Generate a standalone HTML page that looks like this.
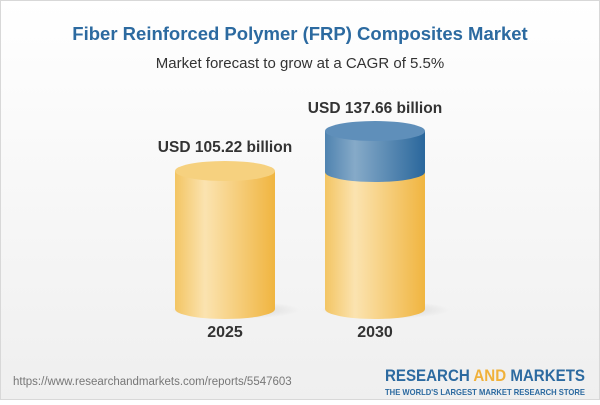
<!DOCTYPE html>
<html><head><style>
html,body{margin:0;padding:0;}
body{width:600px;height:400px;overflow:hidden;font-family:"Liberation Sans",Arial,sans-serif;}
</style></head><body>
<svg width="600" height="400" xmlns="http://www.w3.org/2000/svg">
<defs>
<linearGradient id="bg" x1="0" y1="0" x2="0" y2="1"><stop offset="0" stop-color="#ffffff"/><stop offset="1" stop-color="#efefef"/></linearGradient>
<linearGradient id="yb" x1="0" x2="1"><stop offset="0" stop-color="#f3c563"/><stop offset="0.3" stop-color="#fbe3b0"/><stop offset="1" stop-color="#f0b540"/></linearGradient>
<linearGradient id="bb" x1="0" x2="1"><stop offset="0" stop-color="#4f83b0"/><stop offset="0.3" stop-color="#86aac8"/><stop offset="1" stop-color="#2a679c"/></linearGradient>
<radialGradient id="sh" cx="0.5" cy="0.5" r="0.5"><stop offset="0" stop-color="#cfcfcf"/><stop offset="1" stop-color="#cfcfcf" stop-opacity="0"/></radialGradient>
</defs>
<rect x="0.5" y="0.5" width="599" height="399" fill="url(#bg)" stroke="#d8d8d8"/>
<text x="300" y="40" text-anchor="middle" font-size="18.5" font-weight="bold" fill="#2c6aa0">Fiber Reinforced Polymer (FRP) Composites Market</text>
<text x="300" y="68" text-anchor="middle" font-size="15" fill="#333">Market forecast to grow at a CAGR of 5.5%</text>
<ellipse cx="235" cy="310" rx="65" ry="9" fill="url(#sh)"/>
<ellipse cx="385" cy="310" rx="65" ry="9" fill="url(#sh)"/>
<path d="M175,171 L175,309 A50,10 0 0 0 275,309 L275,171 Z" fill="url(#yb)"/>
<ellipse cx="225" cy="171" rx="50" ry="10" fill="#f6d17f"/>
<path d="M325,172 L325,309 A50,10 0 0 0 425,309 L425,172 Z" fill="url(#yb)"/>
<path d="M325,131 L325,172 A50,10 0 0 0 425,172 L425,131 Z" fill="url(#bb)"/>
<ellipse cx="375" cy="131" rx="50" ry="10" fill="#5f8fba"/>
<text x="225" y="152" text-anchor="middle" font-size="15.5" font-weight="bold" fill="#333">USD 105.22 billion</text>
<text x="375" y="113" text-anchor="middle" font-size="15.5" font-weight="bold" fill="#333">USD 137.66 billion</text>
<text x="225" y="337" text-anchor="middle" font-size="16" font-weight="bold" fill="#333">2025</text>
<text x="375" y="337" text-anchor="middle" font-size="16" font-weight="bold" fill="#333">2030</text>
<text x="13" y="385" font-size="11.5" fill="#777">https://www.researchandmarkets.com/reports/5547603</text>
<text x="385" y="381" font-size="17" font-weight="bold" fill="#2c6aa0" textLength="200" lengthAdjust="spacingAndGlyphs">RESEARCH <tspan fill="#f0b13a">AND</tspan> MARKETS</text>
<text x="385" y="395" font-size="8.5" font-weight="bold" fill="#2c6aa0" textLength="200" lengthAdjust="spacingAndGlyphs">THE WORLD'S LARGEST MARKET RESEARCH STORE</text>
</svg>
</body></html>
